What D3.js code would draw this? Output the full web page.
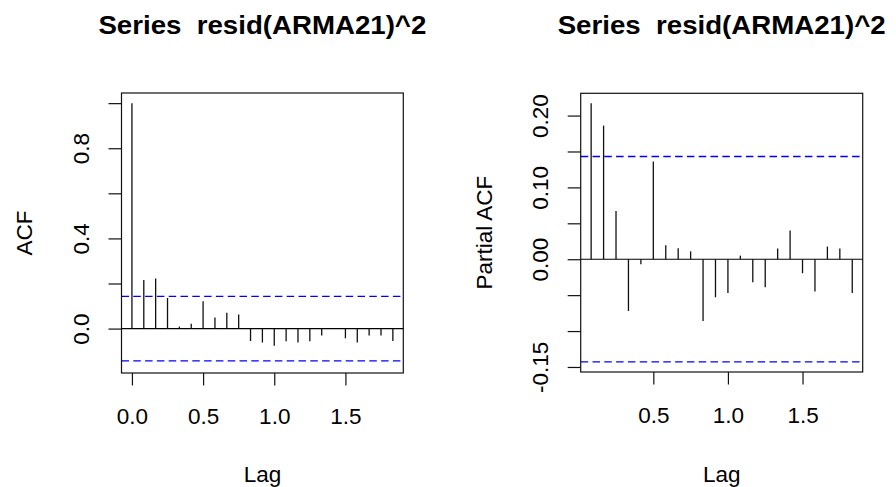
<!DOCTYPE html>
<meta charset="utf-8">
<script src="https://d3js.org/d3.v7.min.js"></script>
<style>
  body { margin: 0; background: #fff; }
  text { font-family: "Liberation Sans", Arial, sans-serif; fill: #000; }
</style>
<div id="my_dataviz"></div>
<script>
  // data (monthly series -> lag in years, 1/12 steps)
  const titleText = "Series  resid(ARMA21)^2";
  const acfValues = [1.0, 0.215, 0.222, 0.136, 0.009, 0.022, 0.121, 0.049, 0.070, 0.062,
    -0.055, -0.062, -0.076, -0.056, -0.062, -0.056, -0.031, 0.002, -0.043, -0.062,
    -0.031, -0.031, -0.055];
  const pacfValues = [0.217, 0.186, 0.067, -0.072, -0.007, 0.136, 0.0195, 0.0153, 0.011, -0.086,
    -0.053, -0.047, 0.005, -0.032, -0.039, 0.015, 0.040, -0.0195, -0.045, 0.0176,
    0.015, -0.047];
  const confLimit = 0.143;
  const acfTicks = [0, 0.2, 0.4, 0.6, 0.8, 1.0];
  const acfTickLabels = ["0.0", "", "0.4", "", "0.8", ""];
  const pacfTicks = [-0.15, -0.10, -0.05, 0, 0.05, 0.10, 0.15, 0.20];
  const pacfTickLabels = ["-0.15", "", "", "0.00", "", "0.10", "", "0.20"];
  const acfLagTicks = [0, 0.5, 1.0, 1.5];
  const acfLagLabels = ["0.0", "0.5", "1.0", "1.5"];
  const pacfLagTicks = [0.5, 1.0, 1.5];
  const pacfLagLabels = ["0.5", "1.0", "1.5"];

  const acfData = acfValues.map((v, i) => ({ lag: i / 12, value: v }));
  const pacfData = pacfValues.map((v, i) => ({ lag: (i + 1) / 12, value: v }));

  const width = 896, height = 487;

  const svg = d3.select("#my_dataviz")
    .append("svg")
    .attr("width", width)
    .attr("height", height);

  const panels = [
    {
      data: acfData, ylab: "ACF",
      box: { left: 121.5, right: 403.3, top: 93, bottom: 373 },
      xDomain: [-0.0733, 1.9067], yDomain: [-0.197, 1.045],
      yTicks: acfTicks, yLabels: acfTickLabels,
      xTicks: acfLagTicks, xLabels: acfLagLabels
    },
    {
      data: pacfData, ylab: "Partial ACF",
      box: { left: 580.7, right: 862.7, top: 93.3, bottom: 372 },
      xDomain: [0.0133, 1.9033], yDomain: [-0.157, 0.231],
      yTicks: pacfTicks, yLabels: pacfTickLabels,
      xTicks: pacfLagTicks, xLabels: pacfLagLabels
    }
  ];

  panels.forEach(function (p) {
    const b = p.box;
    const x = d3.scaleLinear().domain(p.xDomain).range([b.left, b.right]);
    const y = d3.scaleLinear().domain(p.yDomain).range([b.bottom, b.top]);
    const g = svg.append("g");

    // confidence bounds
    g.selectAll("ci")
      .data([confLimit, -confLimit])
      .join("line")
      .attr("x1", b.left).attr("x2", b.right)
      .attr("y1", d => y(d)).attr("y2", d => y(d))
      .style("stroke", "#0000ff")
      .style("stroke-width", 1.3)
      .style("stroke-dasharray", "7.5,4.3");

    // zero line
    g.append("line")
      .attr("x1", b.left).attr("x2", b.right)
      .attr("y1", y(0)).attr("y2", y(0))
      .style("stroke", "#000").style("stroke-width", 1.2);

    // spikes
    g.selectAll("spike")
      .data(p.data)
      .join("line")
      .attr("x1", d => x(d.lag)).attr("x2", d => x(d.lag))
      .attr("y1", y(0)).attr("y2", d => y(d.value))
      .style("stroke", "#111").style("stroke-width", 1.3);

    // box
    g.append("rect")
      .attr("x", b.left).attr("y", b.top)
      .attr("width", b.right - b.left).attr("height", b.bottom - b.top)
      .style("fill", "none").style("stroke", "#111").style("stroke-width", 1.2);

    // y axis, labels turned like R (las = 0)
    const yAxis = g.append("g")
      .attr("transform", `translate(${b.left},0)`)
      .call(d3.axisLeft(y).tickValues(p.yTicks).tickSize(13)
        .tickFormat((d, i) => p.yLabels[i]));
    yAxis.select(".domain").remove();
    yAxis.selectAll("line").style("stroke", "#111").style("stroke-width", 1.2);
    yAxis.selectAll("text")
      .attr("x", null).attr("dy", null)
      .attr("text-anchor", "middle")
      .attr("transform", "translate(-32.5,0) rotate(-90)")
      .style("font-size", "22.5px")
      .style("font-family", "'Liberation Sans', Arial, sans-serif")
      .style("fill", "#000");

    // x axis
    const xAxis = g.append("g")
      .attr("transform", `translate(0,${b.bottom})`)
      .call(d3.axisBottom(x).tickValues(p.xTicks).tickSize(12.5)
        .tickFormat((d, i) => p.xLabels[i]));
    xAxis.select(".domain").remove();
    xAxis.selectAll("line").style("stroke", "#111").style("stroke-width", 1.2);
    xAxis.selectAll("text")
      .attr("y", 50.5).attr("dy", null)
      .style("font-size", "22.5px")
      .style("font-family", "'Liberation Sans', Arial, sans-serif")
      .style("fill", "#000");

    const cx = (b.left + b.right) / 2, cy = (b.top + b.bottom) / 2;

    // title
    g.append("text")
      .attr("x", cx).attr("y", 34)
      .attr("text-anchor", "middle")
      .attr("textLength", 328)
      .attr("lengthAdjust", "spacingAndGlyphs")
      .style("white-space", "pre")
      .style("font-weight", "bold")
      .style("font-size", "26px")
      .text(titleText);

    // axis titles
    g.append("text")
      .attr("x", cx).attr("y", 482)
      .attr("text-anchor", "middle")
      .style("font-size", "22.5px")
      .text("Lag");

    g.append("text")
      .attr("transform", `translate(${b.left - (p.ylab === "ACF" ? 90 : 88.5)},${cy}) rotate(-90)`)
      .attr("text-anchor", "middle")
      .style("font-size", "22.5px")
      .text(p.ylab);
  });
</script>
